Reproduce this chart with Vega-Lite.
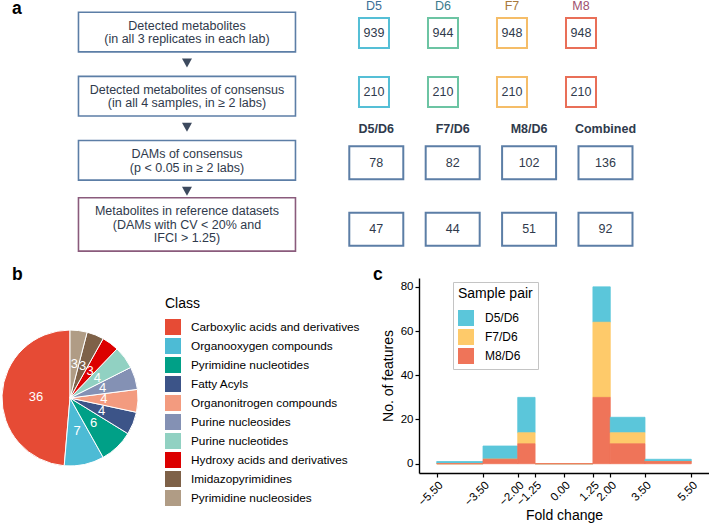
{
  "$schema": "https://vega.github.io/schema/vega-lite/v6.json",
  "background": "white",
  "padding": 0,
  "bounds": "flush",
  "spacing": 12,
  "resolve": {"scale": {"color": "independent", "stroke": "independent"}, "legend": {"color": "independent", "stroke": "independent"}},
  "config": {
    "font": "Liberation Sans",
    "view": {"stroke": null},
    "axis": {"domainColor": "black", "tickColor": "black", "labelColor": "black", "titleColor": "black", "grid": false, "titleFontWeight": "normal", "titleFontSize": 14, "labelFontSize": 11.5, "tickSize": 4, "domainWidth": 1.4, "tickWidth": 1.2}
  },
  "datasets": {
    "flow": [
      {"group": "flow", "step": 1, "label": "Detected metabolites\n(in all 3 replicates in each lab)"},
      {"group": "flow", "step": 2, "label": "Detected metabolites of consensus\n(in all 4 samples, in ≥ 2 labs)"},
      {"group": "flow", "step": 3, "label": "DAMs of consensus\n(p < 0.05 in ≥ 2 labs)"},
      {"group": "flow", "step": 4, "label": "Metabolites in reference datasets\n(DAMs with CV < 20% and\nIFCI > 1.25)"}
    ],
    "small": [
      {"group": "grid", "col": "D5", "step": 1, "value": 939}, {"group": "grid", "col": "D6", "step": 1, "value": 944}, {"group": "grid", "col": "F7", "step": 1, "value": 948}, {"group": "grid", "col": "M8", "step": 1, "value": 948},
      {"group": "grid", "col": "D5", "step": 2, "value": 210}, {"group": "grid", "col": "D6", "step": 2, "value": 210}, {"group": "grid", "col": "F7", "step": 2, "value": 210}, {"group": "grid", "col": "M8", "step": 2, "value": 210}
    ],
    "wide": [
      {"group": "grid", "col": "D5/D6", "step": 3, "value": 78}, {"group": "grid", "col": "F7/D6", "step": 3, "value": 82}, {"group": "grid", "col": "M8/D6", "step": 3, "value": 102}, {"group": "grid", "col": "Combined", "step": 3, "value": 136},
      {"group": "grid", "col": "D5/D6", "step": 4, "value": 47}, {"group": "grid", "col": "F7/D6", "step": 4, "value": 44}, {"group": "grid", "col": "M8/D6", "step": 4, "value": 51}, {"group": "grid", "col": "Combined", "step": 4, "value": 92}
    ],
    "classes": [
      {"class": "Carboxylic acids and derivatives", "count": 36, "rank": 1},
      {"class": "Organooxygen compounds", "count": 7, "rank": 2},
      {"class": "Pyrimidine nucleotides", "count": 6, "rank": 3},
      {"class": "Fatty Acyls", "count": 4, "rank": 4},
      {"class": "Organonitrogen compounds", "count": 4, "rank": 5},
      {"class": "Purine nucleosides", "count": 4, "rank": 6},
      {"class": "Purine nucleotides", "count": 4, "rank": 7},
      {"class": "Hydroxy acids and derivatives", "count": 3, "rank": 8},
      {"class": "Imidazopyrimidines", "count": 3, "rank": 9},
      {"class": "Pyrimidine nucleosides", "count": 3, "rank": 10}
    ],
    "hist": [
      {"lo": -5.5, "hi": -3.5, "pair": "D5/D6", "count": 1}, {"lo": -5.5, "hi": -3.5, "pair": "F7/D6", "count": 0}, {"lo": -5.5, "hi": -3.5, "pair": "M8/D6", "count": 0},
      {"lo": -3.5, "hi": -2, "pair": "D5/D6", "count": 6}, {"lo": -3.5, "hi": -2, "pair": "F7/D6", "count": 0}, {"lo": -3.5, "hi": -2, "pair": "M8/D6", "count": 2},
      {"lo": -2, "hi": -1.25, "pair": "D5/D6", "count": 16}, {"lo": -2, "hi": -1.25, "pair": "F7/D6", "count": 5}, {"lo": -2, "hi": -1.25, "pair": "M8/D6", "count": 9},
      {"lo": -1.25, "hi": 1.25, "pair": "D5/D6", "count": 0}, {"lo": -1.25, "hi": 1.25, "pair": "F7/D6", "count": 0}, {"lo": -1.25, "hi": 1.25, "pair": "M8/D6", "count": 0},
      {"lo": 1.25, "hi": 2, "pair": "D5/D6", "count": 16}, {"lo": 1.25, "hi": 2, "pair": "F7/D6", "count": 34}, {"lo": 1.25, "hi": 2, "pair": "M8/D6", "count": 30},
      {"lo": 2, "hi": 3.5, "pair": "D5/D6", "count": 7}, {"lo": 2, "hi": 3.5, "pair": "F7/D6", "count": 5}, {"lo": 2, "hi": 3.5, "pair": "M8/D6", "count": 9},
      {"lo": 3.5, "hi": 5.5, "pair": "D5/D6", "count": 1}, {"lo": 3.5, "hi": 5.5, "pair": "F7/D6", "count": 0}, {"lo": 3.5, "hi": 5.5, "pair": "M8/D6", "count": 1}
    ]
  },
  "vconcat": [
    {
      "width": 640,
      "height": 265,
      "title": {"text": "a", "anchor": "start", "frame": "group", "orient": "top", "fontSize": 17.5, "fontWeight": "bold", "color": "black", "dx": 12, "offset": -31.5, "baseline": "alphabetic"},
      "resolve": {"scale": {"xOffset": "independent", "y": "independent", "color": "independent", "stroke": "independent"}},
      "layer": [
        {
          "data": {"name": "flow"},
          "encoding": {
            "x": {"field": "group", "type": "nominal", "axis": null, "scale": {"type": "band", "domain": ["flow", "grid"], "paddingInner": 0.0099, "paddingOuter": 0.061, "align": 1}},
            "y": {"field": "step", "type": "quantitative", "axis": null, "scale": {"domain": [0.515, 4.649], "reverse": true, "nice": false, "zero": false}}
          },
          "layer": [
            {"transform": [{"filter": "datum.step < 4"}], "mark": {"type": "point", "shape": "M-108.5,-19.8H108.5V19.8H-108.5Z", "size": 4, "filled": false, "stroke": "#5c7ea6", "strokeWidth": 1.6, "opacity": 1}},
            {"transform": [{"filter": "datum.step == 4"}], "mark": {"type": "point", "shape": "M-108.5,-26.7H108.5V26.7H-108.5Z", "size": 4, "filled": false, "stroke": "#8a5b7c", "strokeWidth": 1.6, "opacity": 1}},
            {"transform": [{"filter": "datum.step < 4"}], "mark": {"type": "point", "shape": "M-5,-4.5H5L0,4.5Z", "size": 4, "filled": true, "fill": "#3d4a5e", "strokeWidth": 0, "opacity": 1, "yOffset": 31}},
            {"transform": [{"filter": "datum.step < 4"}], "mark": {"type": "text", "lineBreak": "\n", "fontSize": 12.5, "lineHeight": 13.5, "color": "#2f3a4c", "baseline": "middle", "dy": -6.2}, "encoding": {"text": {"field": "label"}}},
            {"transform": [{"filter": "datum.step == 4"}], "mark": {"type": "text", "lineBreak": "\n", "fontSize": 12.5, "lineHeight": 13.5, "color": "#2f3a4c", "baseline": "middle", "dy": -13}, "encoding": {"text": {"field": "label"}}}
          ]
        },
        {
          "data": {"name": "small"},
          "encoding": {
            "x": {"field": "group", "type": "nominal", "axis": null, "scale": {"type": "band", "domain": ["flow", "grid"], "paddingInner": 0.0099, "paddingOuter": 0.061, "align": 1}},
            "xOffset": {"field": "col", "type": "nominal", "scale": {"type": "point", "padding": 0.674, "align": 0.3656, "domain": ["D5", "D6", "F7", "M8"]}},
            "y": {"field": "step", "type": "quantitative", "axis": null, "scale": {"domain": [0.458, 4.95], "reverse": true, "nice": false, "zero": false}}
          },
          "layer": [
            {"mark": {"type": "point", "shape": "square", "size": 900, "filled": false, "strokeWidth": 2, "opacity": 1},
             "encoding": {"stroke": {"field": "col", "type": "nominal", "legend": null, "scale": {"domain": ["D5", "D6", "F7", "M8"], "range": ["#55bfd6", "#6cc4a3", "#f5bd68", "#e96f58"]}}}},
            {"mark": {"type": "text", "fontSize": 12.5, "color": "#2f3a4c", "baseline": "middle"}, "encoding": {"text": {"field": "value"}}},
            {"transform": [{"filter": "datum.step == 1"}], "mark": {"type": "text", "fontSize": 12.5, "baseline": "middle", "dy": -26.5},
             "encoding": {"text": {"field": "col"}, "color": {"field": "col", "type": "nominal", "legend": null, "scale": {"domain": ["D5", "D6", "F7", "M8"], "range": ["#3b6e96", "#3c7a8c", "#a8783a", "#9e4f6e"]}}}}
          ]
        },
        {
          "data": {"name": "wide"},
          "encoding": {
            "x": {"field": "group", "type": "nominal", "axis": null, "scale": {"type": "band", "domain": ["flow", "grid"], "paddingInner": 0.0099, "paddingOuter": 0.061, "align": 1}},
            "xOffset": {"field": "col", "type": "nominal", "scale": {"type": "point", "padding": 0.4634, "align": 0.5127, "domain": ["D5/D6", "F7/D6", "M8/D6", "Combined"]}},
            "y": {"field": "step", "type": "quantitative", "axis": null, "scale": {"domain": [0.572, 4.551], "reverse": true, "nice": false, "zero": false}}
          },
          "layer": [
            {"mark": {"type": "point", "shape": "M-27,-16.5H27V16.5H-27Z", "size": 4, "filled": false, "stroke": "#5c7ea6", "strokeWidth": 2, "opacity": 1}},
            {"mark": {"type": "text", "fontSize": 12.5, "color": "#2f3a4c", "baseline": "middle"}, "encoding": {"text": {"field": "value"}}},
            {"transform": [{"filter": "datum.step == 3"}], "mark": {"type": "text", "fontSize": 12.5, "fontWeight": "bold", "color": "#2f3a4c", "baseline": "middle", "dy": -33.5}, "encoding": {"text": {"field": "col"}}}
          ]
        }
      ]
    },
    {
      "bounds": "flush",
      "spacing": 279,
      "resolve": {"scale": {"color": "independent", "stroke": "independent"}, "legend": {"color": "independent", "stroke": "independent"}},
      "hconcat": [
        {
          "width": 140,
          "height": 240,
          "title": {"text": "b", "anchor": "start", "frame": "group", "orient": "top", "fontSize": 17.5, "fontWeight": "bold", "color": "black", "dx": 12, "offset": -19.3, "baseline": "alphabetic"},
          "data": {"name": "classes"},
          "encoding": {
            "theta": {"field": "count", "type": "quantitative", "stack": true},
            "order": {"field": "rank", "sort": "descending"}
          },
          "layer": [
            {"mark": {"type": "arc", "outerRadius": 68, "stroke": "white", "strokeWidth": 1},
             "encoding": {"color": {"field": "class", "type": "nominal",
               "scale": {"domain": ["Carboxylic acids and derivatives", "Organooxygen compounds", "Pyrimidine nucleotides", "Fatty Acyls", "Organonitrogen compounds", "Purine nucleosides", "Purine nucleotides", "Hydroxy acids and derivatives", "Imidazopyrimidines", "Pyrimidine nucleosides"],
                         "range": ["#E64B35", "#4DBBD5", "#00A087", "#3C5488", "#F39B7F", "#8491B4", "#91D1C2", "#DC0000", "#7E6148", "#B09C85"]},
               "legend": {"title": "Class", "orient": "right", "offset": 6, "padding": 19, "titleFontSize": 14, "titleFontWeight": "normal", "titleColor": "black", "titlePadding": 8, "labelFontSize": 11.8, "labelColor": "black", "labelLimit": 300, "symbolType": "square", "symbolSize": 256, "symbolStrokeWidth": 0, "symbolOpacity": 1, "rowPadding": 3, "labelOffset": 10}}}},
            {"mark": {"type": "text", "radius": 34, "fill": "white", "fontSize": 13}, "encoding": {"text": {"field": "count"}}}
          ]
        },
        {
          "width": 290,
          "height": 195,
          "title": {"text": "c", "anchor": "start", "frame": "group", "orient": "top", "fontSize": 17.5, "fontWeight": "bold", "color": "black", "dx": -46, "offset": -19.3, "baseline": "alphabetic"},
          "data": {"name": "hist"},
          "mark": {"type": "bar", "orient": "vertical", "strokeWidth": 0.8},
          "encoding": {
            "x": {"field": "lo", "type": "quantitative", "stack": null, "scale": {"domain": [-6.05, 6.05], "nice": false, "zero": false},
                  "axis": {"values": [-5.5, -3.5, -2, -1.25, 0, 1.25, 2, 3.5, 5.5], "format": ".2f", "labelAngle": -45, "labelOverlap": false, "title": "Fold change", "titlePadding": 1}},
            "x2": {"field": "hi"},
            "y": {"field": "count", "type": "quantitative", "stack": "zero", "scale": {"domain": [-4.2, 84], "nice": false, "zero": false},
                  "axis": {"values": [0, 20, 40, 60, 80], "title": "No. of features", "titlePadding": 5}},
            "color": {"field": "pair", "type": "nominal", "scale": {"domain": ["D5/D6", "F7/D6", "M8/D6"], "range": ["#5bc6da", "#feca6a", "#ef7459"]},
                      "legend": {"orient": "none", "legendX": 34, "legendY": 4, "title": "Sample pair", "titleFontSize": 14, "titleFontWeight": "normal", "titleColor": "black", "titlePadding": 9, "labelFontSize": 12, "labelColor": "black", "symbolType": "square", "symbolSize": 256, "symbolStrokeWidth": 0, "symbolOpacity": 1, "rowPadding": 3, "labelOffset": 11, "padding": 5, "strokeColor": "#c4c4c4", "fillColor": "white"}},
            "stroke": {"field": "pair", "type": "nominal", "legend": null, "scale": {"domain": ["D5/D6", "F7/D6", "M8/D6"], "range": ["#5bc6da", "#feca6a", "#ef7459"]}},
            "order": {"field": "pair", "sort": "descending"}
          }
        }
      ]
    }
  ]
}
